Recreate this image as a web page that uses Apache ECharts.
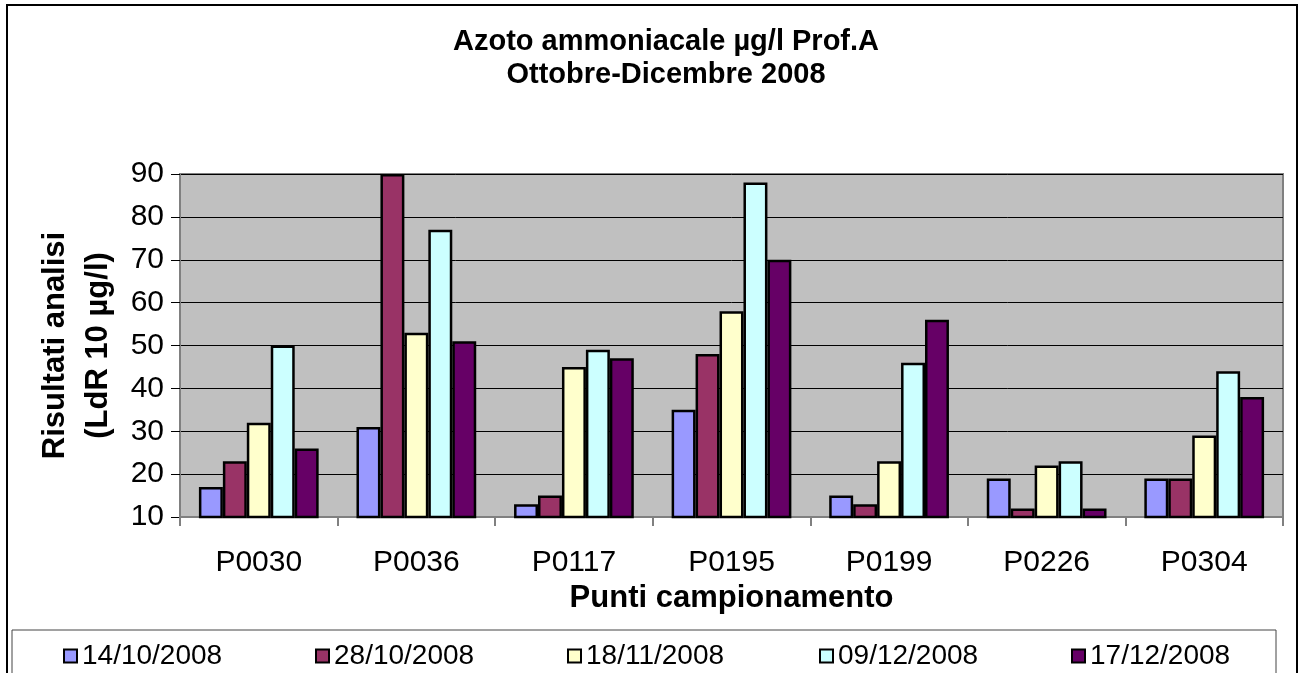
<!DOCTYPE html>
<html lang="it">
<head>
    <meta charset="UTF-8">
    <title>Azoto ammoniacale</title>
    <script src="https://cdn.jsdelivr.net/npm/echarts@6/dist/echarts.min.js"></script>
    <style>
        html, body { margin: 0; padding: 0; background: #fff; }
    </style>
</head>
<body>
<div id="main" style="height:673px;width:1303px"></div>

<script type="text/javascript">
    // dati
    var punti = ['P0030', 'P0036', 'P0117', 'P0195', 'P0199', 'P0226', 'P0304'];
    var date = ['14/10/2008', '28/10/2008', '18/11/2008', '09/12/2008', '17/12/2008'];
    var v14ott = [17, 31, 13, 35, 15, 19, 19];
    var v28ott = [23, 90, 15, 48, 13, 12, 19];
    var v18nov = [32, 53, 45, 58, 23, 22, 29];
    var v09dic = [50, 77, 49, 88, 46, 23, 44];
    var v17dic = [26, 51, 47, 70, 56, 12, 38];
    var yTicks = [10, 20, 30, 40, 50, 60, 70, 80, 90];

    var colori = ['#9999FF', '#993366', '#FFFFCC', '#CCFFFF', '#660066'];
    var valori = [v14ott, v28ott, v18nov, v09dic, v17dic];
    var font = '"Liberation Sans", Arial, sans-serif';

    var serie = [];
    var legende = [];
    for (var i = 0; i < date.length; i++) {
        serie.push({
            name: date[i],
            type: 'bar',
            data: valori[i],
            barGap: '0%',
            barCategoryGap: '24%',
            itemStyle: { color: colori[i], borderColor: '#000', borderWidth: 2.5 }
        });
        // una legenda per voce, così la spaziatura è uguale a quella di Excel
        legende.push({
            data: [date[i]],
            left: 58 + 252 * i,
            top: 637,
            itemWidth: 13,
            itemHeight: 13,
            itemGap: 0,
            icon: 'rect',
            itemStyle: { borderColor: '#000', borderWidth: 2 },
            textStyle: { fontFamily: font, fontSize: 28, color: '#000' }
        });
    }

    var myChart = echarts.init(document.getElementById('main'));
    myChart.setOption({
        animation: false,
        color: colori,
        title: {
            text: 'Azoto ammoniacale µg/l Prof.A\nOttobre-Dicembre 2008',
            left: 661,
            textAlign: 'center',
            top: 20,
            textStyle: { fontFamily: font, fontSize: 29, fontWeight: 'bold', color: '#000', lineHeight: 33 }
        },
        graphic: [
            { type: 'rect', shape: { x: 7, y: 5, width: 1290, height: 680 }, style: { fill: 'none', stroke: '#000', lineWidth: 2 }, silent: true },
            { type: 'rect', shape: { x: 12, y: 630, width: 1264, height: 60 }, style: { fill: 'none', stroke: '#444', lineWidth: 1 }, silent: true }
        ],
        legend: legende,
        grid: {
            left: 180,
            right: 20,
            top: 174,
            bottom: 156,
            show: true,
            backgroundColor: '#C0C0C0',
            borderColor: '#808080',
            borderWidth: 2
        },
        xAxis: {
            type: 'category',
            data: punti,
            name: 'Punti campionamento',
            nameLocation: 'middle',
            nameGap: 66,
            nameTextStyle: { fontFamily: font, fontSize: 31, fontWeight: 'bold', color: '#000' },
            axisLine: { lineStyle: { color: '#808080', width: 2 } },
            axisTick: { show: true, length: 9, lineStyle: { color: '#808080', width: 2 } },
            axisLabel: { fontFamily: font, fontSize: 30, color: '#000', margin: 31 }
        },
        yAxis: {
            type: 'value',
            min: yTicks[0],
            max: yTicks[yTicks.length - 1],
            interval: 10,
            name: 'Risultati analisi\n(LdR 10 µg/l)',
            nameLocation: 'middle',
            nameGap: 58,
            nameTextStyle: { fontFamily: font, fontSize: 31, fontWeight: 'bold', color: '#000', lineHeight: 43 },
            axisLine: { show: true, lineStyle: { color: '#808080', width: 2 } },
            axisTick: { show: true, length: 9, lineStyle: { color: '#000', width: 1 } },
            axisLabel: { fontFamily: font, fontSize: 30, color: '#000', margin: 16 },
            splitLine: { show: true, lineStyle: { color: '#000', width: 1 } }
        },
        series: serie
    });
</script>
</body>
</html>
